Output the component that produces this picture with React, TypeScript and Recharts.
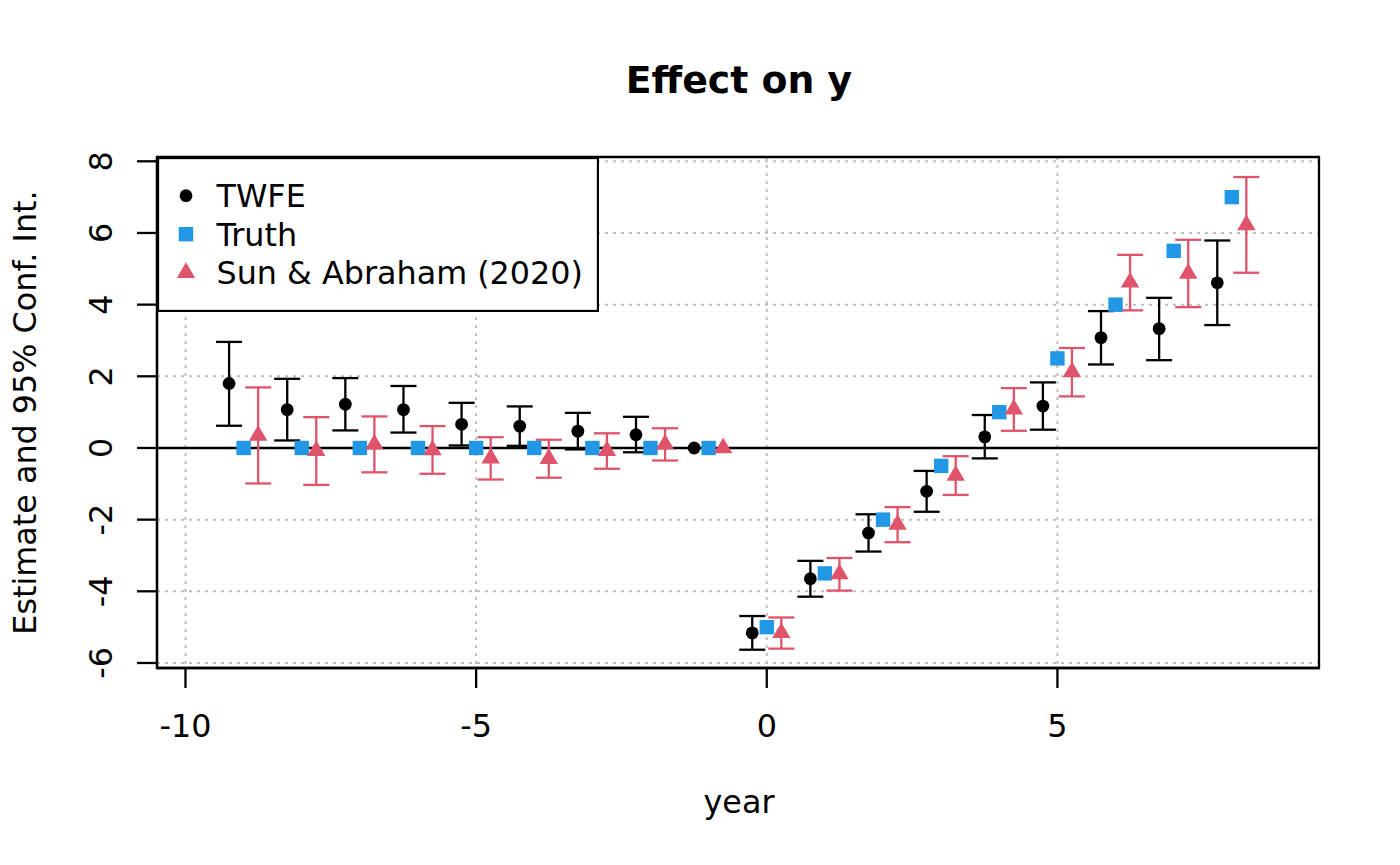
import {
  ComposedChart,
  Scatter,
  ErrorBar,
  XAxis,
  YAxis,
  CartesianGrid,
  ReferenceLine,
  ReferenceArea,
  Legend,
} from 'recharts';

// event-time periods relative to treatment
const years = [-9, -8, -7, -6, -5, -4, -3, -2, -1, 0, 1, 2, 3, 4, 5, 6, 7, 8];

// TWFE estimates and 95% CI bounds (reference period -1 has no interval)
const twfeEst = [1.8, 1.07, 1.22, 1.07, 0.66, 0.61, 0.47, 0.37, 0, -5.16, -3.65, -2.37, -1.21, 0.31, 1.17, 3.08, 3.33, 4.61];
const twfeLow = [0.62, 0.21, 0.49, 0.43, 0.07, 0.06, -0.04, -0.12, null, -5.63, -4.15, -2.89, -1.78, -0.29, 0.51, 2.33, 2.45, 3.43];
const twfeHigh = [2.96, 1.93, 1.95, 1.73, 1.26, 1.16, 0.98, 0.87, null, -4.69, -3.15, -1.85, -0.64, 0.92, 1.83, 3.82, 4.19, 5.79];

// true effect
const truth = [0, 0, 0, 0, 0, 0, 0, 0, 0, -5, -3.5, -2, -0.5, 1, 2.5, 4, 5.5, 7];

// Sun & Abraham (2020) estimates and 95% CI bounds
const saEst = [0.35, -0.08, 0.1, -0.06, -0.29, -0.3, -0.08, 0.1, 0, -5.16, -3.52, -2.14, -0.77, 1.08, 2.12, 4.62, 4.87, 6.22];
const saLow = [-0.99, -1.03, -0.68, -0.72, -0.88, -0.83, -0.58, -0.35, null, -5.6, -3.98, -2.63, -1.31, 0.48, 1.44, 3.84, 3.93, 4.89];
const saHigh = [1.69, 0.86, 0.88, 0.61, 0.3, 0.23, 0.41, 0.55, null, -4.73, -3.07, -1.65, -0.23, 1.67, 2.79, 5.39, 5.81, 7.56];

const xTicks = [-10, -5, 0, 5];
const yTicks = [-6, -4, -2, 0, 2, 4, 6, 8];

const seriesNames = ['TWFE', 'Truth', 'Sun & Abraham (2020)'];

const BLACK = '#000000';
const BLUE = '#2297E6';
const RED = '#DF536B';
const FONT = '"DejaVu Sans", sans-serif';
const FS = 31.8;
const LW = 2.3;

const X_DOMAIN: [number, number] = [-10.49, 9.5];
const Y_DOMAIN: [number, number] = [-6.14, 8.12];

// dodge so the three estimators sit side by side
const DODGE = 0.25;

const buildRows = (est: number[], low: (number | null)[] | null, high: (number | null)[] | null, shift: number) =>
  years.map((yr, i) => {
    const lo = low ? low[i] : null;
    const hi = high ? high[i] : null;
    return {
      x: yr + shift,
      y: est[i],
      err: lo == null || hi == null ? null : [est[i] - lo, hi - est[i]],
    };
  });

const twfeRows = buildRows(twfeEst, twfeLow, twfeHigh, -DODGE);
const truthRows = buildRows(truth, null, null, 0);
const saRows = buildRows(saEst, saLow, saHigh, DODGE);

const Dot = ({ cx, cy }: any) => <circle cx={cx} cy={cy} r={6.4} fill={BLACK} />;
const Square = ({ cx, cy }: any) => <rect x={cx - 7.2} y={cy - 7.2} width={14.4} height={14.4} fill={BLUE} />;
const Triangle = ({ cx, cy }: any) => (
  <polygon points={`${cx},${cy - 10.5} ${cx + 9.2},${cy + 5.2} ${cx - 9.2},${cy + 5.2}`} fill={RED} />
);

const shapes: any = { TWFE: Dot, Truth: Square, 'Sun & Abraham (2020)': Triangle };

const XTick = ({ x, y, payload }: any) => (
  <text x={x} y={y} textAnchor="middle" fontSize={FS} fontFamily={FONT} fill={BLACK}>
    {payload.value}
  </text>
);

const YTick = ({ x, y, payload }: any) => (
  <text
    x={x}
    y={y}
    transform={`rotate(-90 ${x} ${y})`}
    textAnchor="middle"
    fontSize={FS}
    fontFamily={FONT}
    fill={BLACK}
  >
    {payload.value}
  </text>
);

// legend keeps the order the series were plotted in
const renderLegend = () => (
  <svg width={442} height={155} style={{ display: 'block' }}>
    <rect x={1} y={1} width={440} height={153} fill="#ffffff" stroke={BLACK} strokeWidth={LW} />
    {seriesNames.map((name, i) => {
      const Shape = shapes[name];
      return (
        <g key={name}>
          <Shape cx={29} cy={38.7 + i * 38.5} />
          <text x={59.5} y={50.3 + i * 38.5} fontSize={FS} fontFamily={FONT} fill={BLACK}>
            {name}
          </text>
        </g>
      );
    })}
  </svg>
);

const W = 1384;
const H = 849;

export default function App() {
  return (
    <div style={{ position: 'relative', width: W, height: H }}>
      <ComposedChart width={W} height={H} margin={{ top: 149, right: 73, bottom: 129, left: 89 }}>
        <CartesianGrid
          stroke="#bebebe"
          strokeWidth={2}
          strokeDasharray="3 5"
          horizontalValues={yTicks}
          verticalValues={xTicks}
        />
        <XAxis
          dataKey="x"
          type="number"
          domain={X_DOMAIN}
          ticks={xTicks}
          allowDataOverflow
          height={60}
          tickSize={20}
          tickMargin={49}
          tick={<XTick />}
          axisLine={{ stroke: BLACK, strokeWidth: LW }}
          tickLine={{ stroke: BLACK, strokeWidth: LW }}
        />
        <YAxis
          dataKey="y"
          type="number"
          domain={Y_DOMAIN}
          ticks={yTicks}
          allowDataOverflow
          width={60}
          tickSize={20}
          tickMargin={25}
          tick={<YTick />}
          axisLine={{ stroke: BLACK, strokeWidth: LW }}
          tickLine={{ stroke: BLACK, strokeWidth: LW }}
        />
        <ReferenceArea
          x1={X_DOMAIN[0]}
          x2={X_DOMAIN[1]}
          y1={Y_DOMAIN[0]}
          y2={Y_DOMAIN[1]}
          fill="none"
          fillOpacity={0}
          stroke={BLACK}
          strokeWidth={LW}
        />
        <ReferenceLine y={0} stroke={BLACK} strokeWidth={LW} />
        <Scatter name="TWFE" data={twfeRows} fill={BLACK} shape={Dot} isAnimationActive={false}>
          <ErrorBar dataKey="err" direction="y" width={13} stroke={BLACK} strokeWidth={LW} isAnimationActive={false} />
        </Scatter>
        <Scatter name="Truth" data={truthRows} fill={BLUE} shape={Square} isAnimationActive={false} />
        <Scatter name="Sun & Abraham (2020)" data={saRows} fill={RED} shape={Triangle} isAnimationActive={false}>
          <ErrorBar dataKey="err" direction="y" width={13} stroke={RED} strokeWidth={LW} isAnimationActive={false} />
        </Scatter>
        <Legend
          layout="vertical"
          align="center"
          verticalAlign="middle"
          content={renderLegend}
          wrapperStyle={{ left: 149, top: 149, width: 442, height: 155 }}
        />
      </ComposedChart>
      <svg width={W} height={H} style={{ position: 'absolute', left: 0, top: 0, pointerEvents: 'none' }}>
        <text x={731} y={85} textAnchor="middle" fontSize={37.8} fontWeight="bold" fontFamily={FONT} fill={BLACK}>
          Effect on y
        </text>
        <text x={731} y={805} textAnchor="middle" fontSize={FS} fontFamily={FONT} fill={BLACK}>
          year
        </text>
        <text
          x={28}
          y={404.5}
          transform="rotate(-90 28 404.5)"
          textAnchor="middle"
          fontSize={FS}
          fontFamily={FONT}
          fill={BLACK}
        >
          Estimate and 95% Conf. Int.
        </text>
      </svg>
    </div>
  );
}
